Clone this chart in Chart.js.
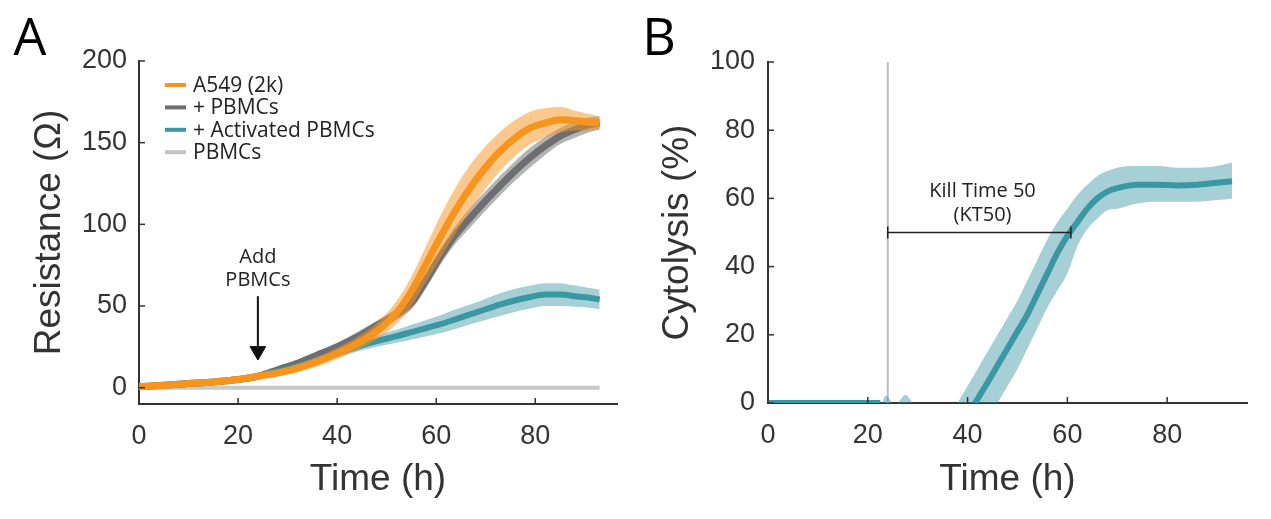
<!DOCTYPE html>
<html>
<head>
<meta charset="utf-8">
<script src="https://cdn.jsdelivr.net/npm/chart.js@4.4.1/dist/chart.umd.min.js"></script>
<style>
  body { margin: 0; background: #fff; }
  #wrap { position: relative; width: 1271px; height: 519px; }
  #chartA { position: absolute; left: 0; top: 0; }
  #chartB { position: absolute; left: 635px; top: 0; }
</style>
</head>
<body>
<div id="wrap">
  <canvas id="chartA" width="635" height="519"></canvas>
  <canvas id="chartB" width="636" height="519"></canvas>
</div>
<script>
// ---- panel A data (resistance, ohm) ----
const timeA = [0, 5, 10, 15, 20, 24, 28, 32, 36, 40, 44, 48, 52, 55, 58, 61, 64, 67, 70, 73, 76, 79, 82, 85, 88, 91, 93];
const a549 = [0.5, 1.5, 2.5, 3.5, 5, 7, 9, 12, 16, 21, 27, 34.5, 46, 59, 76, 93, 109, 123, 135, 145, 153, 159, 162, 164, 163.5, 162.5, 162];
const a549Sd = [0.5, 0.5, 0.8, 1, 1.2, 1.5, 2, 2.5, 3, 3.5, 4, 5, 7, 9, 11, 13, 14, 14, 13, 12, 11, 10, 9, 8, 6, 5, 4];
const pbmcAdd = [0.5, 1.5, 2.5, 3.5, 5, 7, 11, 15, 20, 25, 31, 38, 45, 52, 66, 81, 94, 104.5, 114.5, 124, 133, 141, 148, 154, 158, 161, 162];
const pbmcAddSd = [0.5, 0.5, 0.8, 1, 1, 1.2, 1.5, 2, 2, 2.5, 3, 3, 3.5, 4, 5, 5, 5.5, 6, 6, 6, 6, 6, 5.5, 5, 5, 4.5, 4];
const actAdd = [0.5, 1.5, 2.5, 3.5, 5, 7, 10, 13, 17, 21, 25, 28.5, 31.5, 34, 36.5, 39, 42, 45, 48, 51, 53.5, 55.5, 57, 57, 56, 55, 54];
const actAddSd = [0.5, 0.5, 0.8, 1, 1, 1.2, 1.5, 1.5, 2, 2.5, 3, 3.5, 4, 4.5, 5, 5.5, 6, 6, 6.5, 7, 7, 7, 7, 7, 6.5, 6, 6];
const pbmcTime = [0, 30, 60, 93];
const pbmcOnly = [0, 0, 0, 0];
const arrowTime = [24, 24];
const arrowVals = [56, 22.4];
const legendLabels = ['A549 (2k)', '+ PBMCs', '+ Activated PBMCs', 'PBMCs'];
const legendColors = ['#F7941D', '#6D6E71', '#3A97A4', '#C4C4C4'];
const xTicksA = [0, 20, 40, 60, 80];
const yTicksA = [0, 50, 100, 150, 200];

// ---- panel B data (cytolysis, %) ----
const cytoTime = [0, 22.5, 30, 41.5, 44, 46, 48, 50, 52, 54, 56, 58, 60, 62, 64, 66, 68, 70, 74, 78, 82, 86, 90, 93];
const cytoVals = [0, 0, null, 0, 6, 11, 16, 21, 26, 32, 38, 44, 49, 53, 57, 60, 62, 63, 64, 64, 63.8, 64, 64.6, 65];
const bandTime = [38, 40, 42, 44, 46, 48, 50, 52, 54, 56, 58, 60, 62, 64, 66, 68, 70, 74, 78, 82, 86, 90, 93];
const bandHi = [0, 5, 10, 15, 20, 25, 30, 36, 42, 48, 53, 57, 61, 64, 66.5, 68, 69, 69.5, 69.5, 69, 69, 69.5, 70.5];
const bandLo = [-20, -15, -10, -5, 0, 5, 10, 16, 22, 28, 33, 38, 46, 51, 54, 56.5, 57, 58.5, 59, 59, 59, 59.5, 60];
const blipTime = [22.8, 23.6, 24.2, 25.0, 25.8, 26.8, 27.5, 28.3, 29.0];
const blipVals = [0, 2.2, 1.5, 0, 0, 1.5, 2.4, 1.5, 0];
const addTime = [24, 24];
const addVals = [0, 100];
const kt50Time = [24, 60.7];
const kt50Vals = [50, 50];
const xTicksB = [0, 20, 40, 60, 80];
const yTicksB = [0, 20, 40, 60, 80, 100];

const pts = (xs, ys) => xs.map((x, i) => ({x: x, y: ys[i]}));
const shift = (ys, sd, k) => ys.map((v, i) => v + k * sd[i]);

const tickFont = {family: '"Liberation Sans", Arial, sans-serif', size: 27};
const titleFont = {family: '"Liberation Sans", Arial, sans-serif', size: 37};
const noteFont = '20px "Open Sans", sans-serif';
const legendFont = '21px "Open Sans", sans-serif';

// inward ticks, notes, legend and panel letter
const decor = {
  id: 'decor',
  afterDraw(chart, args, opts) {
    const {ctx, chartArea: a, scales: {x, y}} = chart;
    ctx.save();
    ctx.strokeStyle = '#333';
    ctx.lineWidth = 1.5;
    x.ticks.forEach(t => {
      const px = x.getPixelForValue(t.value);
      ctx.beginPath(); ctx.moveTo(px, a.bottom); ctx.lineTo(px, a.bottom - 6); ctx.stroke();
    });
    y.ticks.forEach(t => {
      const py = y.getPixelForValue(t.value);
      ctx.beginPath(); ctx.moveTo(a.left, py); ctx.lineTo(a.left + 6, py); ctx.stroke();
    });
    ctx.fillStyle = '#222';
    ctx.textAlign = 'center';
    ctx.textBaseline = 'middle';
    ctx.font = noteFont;
    (opts.notes || []).forEach(n => {
      ctx.fillText(n.text, x.getPixelForValue(n.x), y.getPixelForValue(n.y));
    });
    ctx.fillStyle = '#000';
    ctx.textBaseline = 'alphabetic';
    ctx.font = '52px "Open Sans", sans-serif';
    ctx.fillText(opts.letter, opts.letterX, 55);
    if (opts.legend) {
      ctx.textAlign = 'left';
      ctx.font = legendFont;
      legendLabels.forEach((lab, i) => {
        const cy = 85 + i * 22.4;
        ctx.strokeStyle = legendColors[i];
        ctx.lineWidth = 4;
        ctx.beginPath(); ctx.moveTo(a.left + 26, cy); ctx.lineTo(a.left + 47, cy); ctx.stroke();
        ctx.fillStyle = '#222';
        ctx.fillText(lab, a.left + 54, cy + 7);
      });
    }
    ctx.restore();
  }
};

function axes(xmax, ymin, ymax, xt, yt, yTitle, yWidth, xHeight, yTitlePad, yLabPad) {
  return {
    x: {
      type: 'linear', min: 0, max: xmax, z: 1,
      afterBuildTicks: s => { s.ticks = xt.map(v => ({value: v})); },
      afterFit: s => { s.height = xHeight; },
      grid: {display: true, drawOnChartArea: false, drawTicks: false},
      border: {display: true, color: '#333', width: 2},
      ticks: {color: '#333', font: tickFont, padding: 16, maxRotation: 0},
      title: {display: true, text: 'Time (h)', color: '#333', font: titleFont, padding: {top: 0, bottom: 17}}
    },
    y: {
      type: 'linear', min: ymin, max: ymax, z: 1,
      afterBuildTicks: s => { s.ticks = yt.map(v => ({value: v})); },
      afterFit: s => { s.width = yWidth; },
      grid: {display: true, drawOnChartArea: false, drawTicks: false},
      border: {display: true, color: '#333', width: 2},
      ticks: {color: '#333', font: tickFont, padding: yLabPad},
      title: {display: true, text: yTitle, color: '#333', font: titleFont, padding: {top: yTitlePad, bottom: 0}}
    }
  };
}

const line = (data, color, width, order) => ({
  data: data, borderColor: color, borderWidth: width, pointRadius: 0,
  cubicInterpolationMode: 'monotone', fill: false, order: order
});
const bandPair = (xs, hi, lo, color, order) => [
  {data: pts(xs, hi), borderWidth: 0, pointRadius: 0, backgroundColor: color,
   cubicInterpolationMode: 'monotone', fill: '+1', order: order},
  {data: pts(xs, lo), borderWidth: 0, pointRadius: 0,
   cubicInterpolationMode: 'monotone', fill: false, order: order}
];

// Panel A
new Chart(document.getElementById('chartA'), {
  type: 'line',
  data: {
    datasets: [
      line(pts(pbmcTime, pbmcOnly), '#C8C8C8', 4, 9),
      ...bandPair(timeA, shift(pbmcAdd, pbmcAddSd, 1), shift(pbmcAdd, pbmcAddSd, -1), 'rgba(120,120,120,0.55)', 8),
      line(pts(timeA, pbmcAdd), '#6D6E71', 7, 7),
      ...bandPair(timeA, shift(actAdd, actAddSd, 1), shift(actAdd, actAddSd, -1), 'rgba(58,151,164,0.45)', 6),
      line(pts(timeA, actAdd), '#3A97A4', 6, 5),
      ...bandPair(timeA, shift(a549, a549Sd, 1), shift(a549, a549Sd, -1), 'rgba(247,148,29,0.5)', 4),
      line(pts(timeA, a549), '#F7941D', 7, 3),
      {data: pts(arrowTime, arrowVals), borderColor: '#111', borderWidth: 2, pointRadius: 0, order: 1},
      {data: pts([arrowTime[1]], [arrowVals[1]]), showLine: false, pointStyle: 'triangle', rotation: 180,
       pointRadius: 9, pointBackgroundColor: '#111', pointBorderColor: '#111', order: 1}
    ]
  },
  options: {
    responsive: false, animation: false, devicePixelRatio: 1,
    layout: {padding: {left: 0, right: 18, top: 61, bottom: 0}},
    scales: axes(96.5, -10, 200, xTicksA, yTicksA, 'Resistance (\u03A9)', 139, 115, 28, 12),
    plugins: {
      legend: {display: false}, tooltip: {enabled: false},
      decor: {
        letter: 'A', letterX: 30, legend: true,
        notes: [{text: 'Add', x: 24, y: 80}, {text: 'PBMCs', x: 24, y: 66}]
      }
    }
  },
  plugins: [decor]
});

// Panel B
new Chart(document.getElementById('chartB'), {
  type: 'line',
  data: {
    datasets: [
      {data: pts(addTime, addVals), borderColor: '#BDBDBD', borderWidth: 2, pointRadius: 0, order: 9},
      {data: pts(blipTime, blipVals), borderWidth: 0, pointRadius: 0, backgroundColor: 'rgba(58,151,164,0.45)',
       cubicInterpolationMode: 'monotone', fill: 'origin', order: 8},
      ...bandPair(bandTime, bandHi, bandLo, 'rgba(58,151,164,0.45)', 7),
      line(pts(cytoTime, cytoVals), '#3A97A4', 6, 6),
      {data: pts(kt50Time, kt50Vals), borderColor: '#222', borderWidth: 1.5, pointStyle: 'line', rotation: 90,
       pointRadius: 6, pointBorderWidth: 1.5, pointBorderColor: '#222', order: 1}
    ]
  },
  options: {
    responsive: false, animation: false, devicePixelRatio: 1,
    layout: {padding: {left: 0, right: 24, top: 62, bottom: 0}},
    scales: axes(96, 0, 100, xTicksB, yTicksB, 'Cytolysis (%)', 133, 116, 21, 13),
    plugins: {
      legend: {display: false}, tooltip: {enabled: false},
      decor: {
        letter: 'B', letterX: 24, legend: false,
        notes: [{text: 'Kill Time 50', x: 43, y: 62}, {text: '(KT50)', x: 43, y: 55}]
      }
    }
  },
  plugins: [decor]
});
</script>
</body>
</html>
